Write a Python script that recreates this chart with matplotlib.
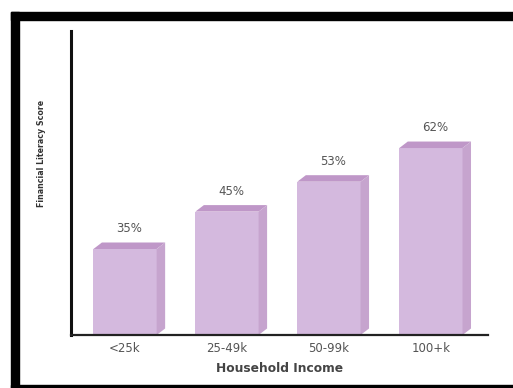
import matplotlib
matplotlib.use("Agg")
import matplotlib.pyplot as plt
from matplotlib.patches import Polygon, Rectangle

# Financial literacy score by household income bracket
categories = ["<25k", "25-49k", "50-99k", "100+k"]
scores = [35, 45, 53, 62]
x_title = "Household Income"
y_title = "Financial Literacy Score"

FRONT = "#d4b9de"
TOP = "#bf97c8"
SIDE = "#c6a4ce"
TEXT = "#555555"

fig = plt.figure(figsize=(5.13, 3.88), dpi=100)
W, H = 513, 388

# Black frame around the graphic (top, left and bottom edges)
def px_rect(x0, y0, x1, y1):
    fig.patches.append(Rectangle((x0 / W, 1 - y1 / H), (x1 - x0) / W, (y1 - y0) / H,
                                 transform=fig.transFigure, color="black", zorder=0))

px_rect(11, 12, 513, 20)
px_rect(11, 12, 19, 388)
px_rect(11, 385, 513, 388)

ax = fig.add_axes([71 / W, 1 - 335 / H, (488 - 71) / W, (335 - 31) / H])
ymin, ymax = 12, 93.3
ax.set_xlim(-0.53, 3.56)
ax.set_ylim(ymin, ymax)

width = 0.62
# depth of the 3D extrusion, in data units
dx = 8.5 / 102
dy = 6.5 / 3.74

xs = list(range(len(categories)))
ax.bar(xs, [s - ymin for s in scores], bottom=ymin, width=width, color=FRONT,
       edgecolor="none", zorder=2)
for x, s in zip(xs, scores):
    l, r = x - width / 2, x + width / 2
    ax.add_patch(Polygon([(l, s), (l + dx, s + dy), (r + dx, s + dy), (r, s)],
                         closed=True, facecolor=TOP, edgecolor="none", zorder=2))
    ax.add_patch(Polygon([(r, ymin), (r + dx, ymin + dy), (r + dx, s + dy), (r, s)],
                         closed=True, facecolor=SIDE, edgecolor="none", zorder=2))
    ax.text(x + dx / 2, s + dy + 2.0, f"{s}%", ha="center", va="bottom",
            fontsize=8.5, color=TEXT, family="DejaVu Sans")

ax.set_xticks(xs)
ax.set_xticklabels(categories, fontsize=8.5, color=TEXT, family="DejaVu Sans")
ax.set_yticks([])
ax.tick_params(axis="x", length=0, pad=5)
for side in ("top", "right"):
    ax.spines[side].set_visible(False)
ax.spines["left"].set_linewidth(2.2)
ax.spines["bottom"].set_linewidth(1.6)
ax.spines["left"].set_color("#111111")
ax.spines["bottom"].set_color("#222222")

fig.text(280 / W, 1 - 369 / H, x_title, ha="center", va="center", fontsize=8.8,
         fontweight="bold", color="#444444", family="DejaVu Sans")
fig.text(41 / W, 1 - 153 / H, y_title, ha="center", va="center", rotation=90,
         fontsize=6.3, fontweight="bold", fontstretch="condensed", color="#333333",
         family="DejaVu Sans")

fig.savefig("out.png", dpi=100)
